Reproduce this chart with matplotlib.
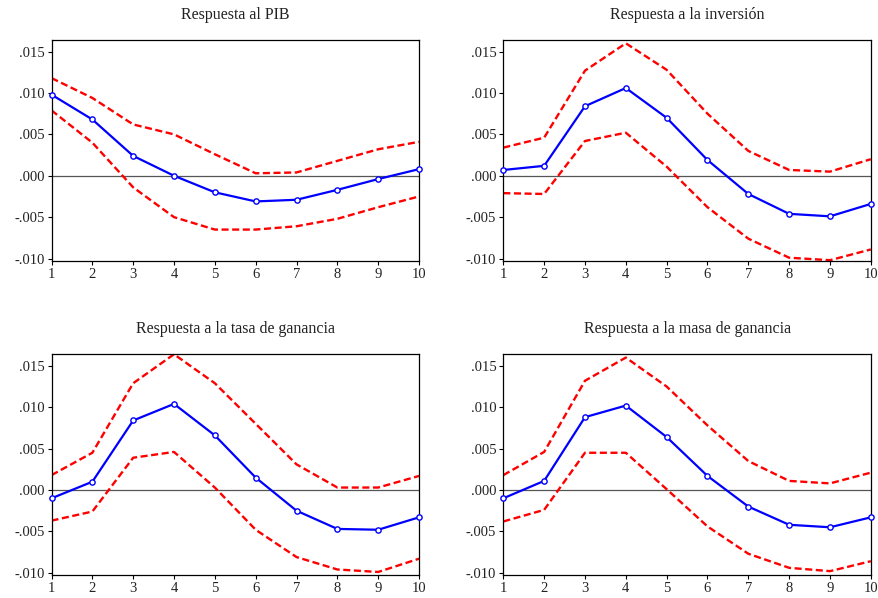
import matplotlib
matplotlib.use("Agg")
import matplotlib.pyplot as plt
from matplotlib.ticker import FuncFormatter
import numpy as np

plt.rcParams['font.family'] = ['Liberation Serif', 'DejaVu Serif']

periods = [1, 2, 3, 4, 5, 6, 7, 8, 9, 10]

titles = ["Respuesta al PIB", "Respuesta a la inversión",
          "Respuesta a la tasa de ganancia", "Respuesta a la masa de ganancia"]

# impulse responses (blue) and +/- 2 s.e. bands (red)
resp_pib = [0.0098, 0.0068, 0.0024, -0.0000, -0.0020, -0.0031, -0.0029, -0.0017, -0.0004, 0.0008]
up_pib = [0.0118, 0.0094, 0.0062, 0.0050, 0.0026, 0.0003, 0.0004, 0.0018, 0.0032, 0.0041]
lo_pib = [0.0079, 0.0040, -0.0014, -0.0050, -0.0065, -0.0065, -0.0061, -0.0052, -0.0038, -0.0025]

resp_inv = [0.0007, 0.0012, 0.0084, 0.0106, 0.0070, 0.0019, -0.0022, -0.0046, -0.0049, -0.0034]
up_inv = [0.0034, 0.0046, 0.0127, 0.0160, 0.0128, 0.0075, 0.0030, 0.0007, 0.0005, 0.0020]
lo_inv = [-0.0021, -0.0022, 0.0042, 0.0052, 0.0011, -0.0038, -0.0076, -0.0099, -0.0102, -0.0089]

resp_tasa = [-0.0010, 0.0010, 0.0084, 0.0104, 0.0066, 0.0015, -0.0025, -0.0047, -0.0048, -0.0033]
up_tasa = [0.0018, 0.0045, 0.0129, 0.0164, 0.0129, 0.0080, 0.0031, 0.0003, 0.0003, 0.0017]
lo_tasa = [-0.0037, -0.0026, 0.0039, 0.0046, 0.0003, -0.0048, -0.0081, -0.0096, -0.0099, -0.0083]

resp_masa = [-0.0010, 0.0011, 0.0088, 0.0102, 0.0064, 0.0017, -0.0020, -0.0042, -0.0045, -0.0033]
up_masa = [0.0018, 0.0046, 0.0132, 0.0160, 0.0125, 0.0078, 0.0035, 0.0011, 0.0008, 0.0021]
lo_masa = [-0.0038, -0.0024, 0.0045, 0.0045, 0.0001, -0.0044, -0.0077, -0.0094, -0.0098, -0.0086]

responses = [resp_pib, resp_inv, resp_tasa, resp_masa]
uppers = [up_pib, up_inv, up_tasa, up_masa]
lowers = [lo_pib, lo_inv, lo_tasa, lo_masa]
yticks = [-0.010, -0.005, 0.000, 0.005, 0.010, 0.015]


def fmt(v, pos):
    s = "%.3f" % v
    if s.startswith("-0"):
        return "-" + s[2:]
    if s.startswith("0"):
        return s[1:]
    return s


fig = plt.figure(figsize=(8.79, 5.98), dpi=100)
lefts = [0.0586, 0.5726]
bottoms = [0.5635, 0.038]
w, h = 0.4181, 0.3696

for i in range(4):
    ax = fig.add_axes([lefts[i % 2], bottoms[i // 2], w, h])
    ax.axhline(0, color='#555555', lw=0.9, zorder=1)
    ax.plot(periods, uppers[i], color='red', lw=1.7, ls=(0, (3, 1.5)), zorder=2)
    ax.plot(periods, lowers[i], color='red', lw=1.7, ls=(0, (3, 1.5)), zorder=2)
    ax.plot(periods, responses[i], color='blue', lw=1.6, marker='o', ms=3.8,
            mfc='white', mec='blue', mew=1.0, zorder=3, clip_on=False)
    ax.set_xlim(1, 10)
    ax.set_ylim(-0.0103, 0.0164)
    ax.set_xticks(periods)
    ax.set_yticks(yticks)
    ax.yaxis.set_major_formatter(FuncFormatter(fmt))
    ax.tick_params(direction='out', length=3, width=0.8, labelsize=10.5, pad=2,
                   labelcolor='#222222')
    for sp in ax.spines.values():
        sp.set_linewidth(0.9)
    ax.set_title(titles[i], fontsize=11.5, pad=15, color='#222222')

fig.savefig("out.png", dpi=100)
